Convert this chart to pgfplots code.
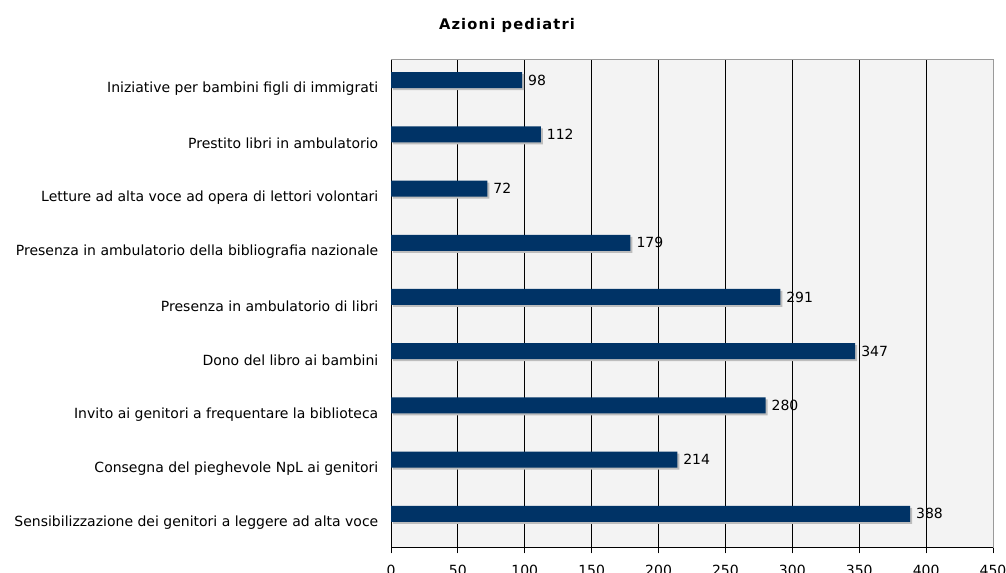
\documentclass[border=0pt]{standalone}
\usepackage{pgfplots}
\pgfplotsset{compat=1.18}
\usepackage{fontspec}
\setmainfont{DejaVu Sans}
\definecolor{navy}{HTML}{003366}
\definecolor{bgc}{HTML}{F3F3F3}
\definecolor{shadowc}{HTML}{BDBDBD}
\definecolor{bordc}{HTML}{9A9A9A}
\begin{document}
\begin{tikzpicture}
\path[use as bounding box] (0,0) rectangle (754.5pt,429.75pt);
\node[font=\bfseries\fontsize{11}{13}\selectfont\addfontfeatures{LetterSpace=8}] at (380.25pt,411pt) {Azioni pediatri};
\begin{axis}[
  at={(293.25pt,18.75pt)}, anchor=south west,
  scale only axis, width=451.5pt, height=366pt,
  xmin=0, xmax=450, ymin=-0.5, ymax=8.5,
  xtick={0,50,...,450},
  ytick={0,...,8},
  yticklabels={Sensibilizzazione dei genitori a leggere ad alta voce,
    Consegna del pieghevole NpL ai genitori,
    Invito ai genitori a frequentare la biblioteca,
    Dono del libro ai bambini,
    Presenza in ambulatorio di libri,
    Presenza in ambulatorio della bibliografia nazionale,
    Letture ad alta voce ad opera di lettori volontari,
    Prestito libri in ambulatorio,
    Iniziative per bambini figli di immigrati},
  minor ytick={-0.5,0.5,...,8.5},
  ytick style={draw=none},
  minor tick style={draw=black, line width=0.75pt},
  minor tick length=4pt,
  xtick style={draw=black, line width=0.75pt},
  major tick length=4pt,
  tick align=outside,
  axis x line*=bottom, axis y line*=left,
  axis line style={black, line width=0.75pt},
  xmajorgrids, grid style={black, line width=0.75pt},
  axis background/.style={fill=bgc},
  tick label style={font=\fontsize{10.5}{12}\selectfont},
  /pgf/number format/assume math mode=true,
  yticklabel style={xshift=-2pt, yshift=-1.5pt},
  xticklabel style={yshift=-5pt},
  clip=false,
]
\addplot[xbar, bar width=12pt, bar shift=3.75pt, fill=shadowc, draw=none, xshift=1.5pt]
  coordinates {(388,0) (214,1) (280,2) (347,3) (291,4) (179,5) (72,6) (112,7) (98,8)};
\addplot[xbar, bar width=12pt, bar shift=5.25pt, fill=navy, draw=none,
  nodes near coords, every node near coord/.append style={anchor=west, font=\fontsize{10.5}{12}\selectfont, text=black, xshift=1pt, yshift=5.25pt}]
  coordinates {(388,0) (214,1) (280,2) (347,3) (291,4) (179,5) (72,6) (112,7) (98,8)};
\draw[bordc, line width=0.75pt] (rel axis cs:0,1) -- (rel axis cs:1,1) -- (rel axis cs:1,0);
\end{axis}
\end{tikzpicture}
\end{document}
